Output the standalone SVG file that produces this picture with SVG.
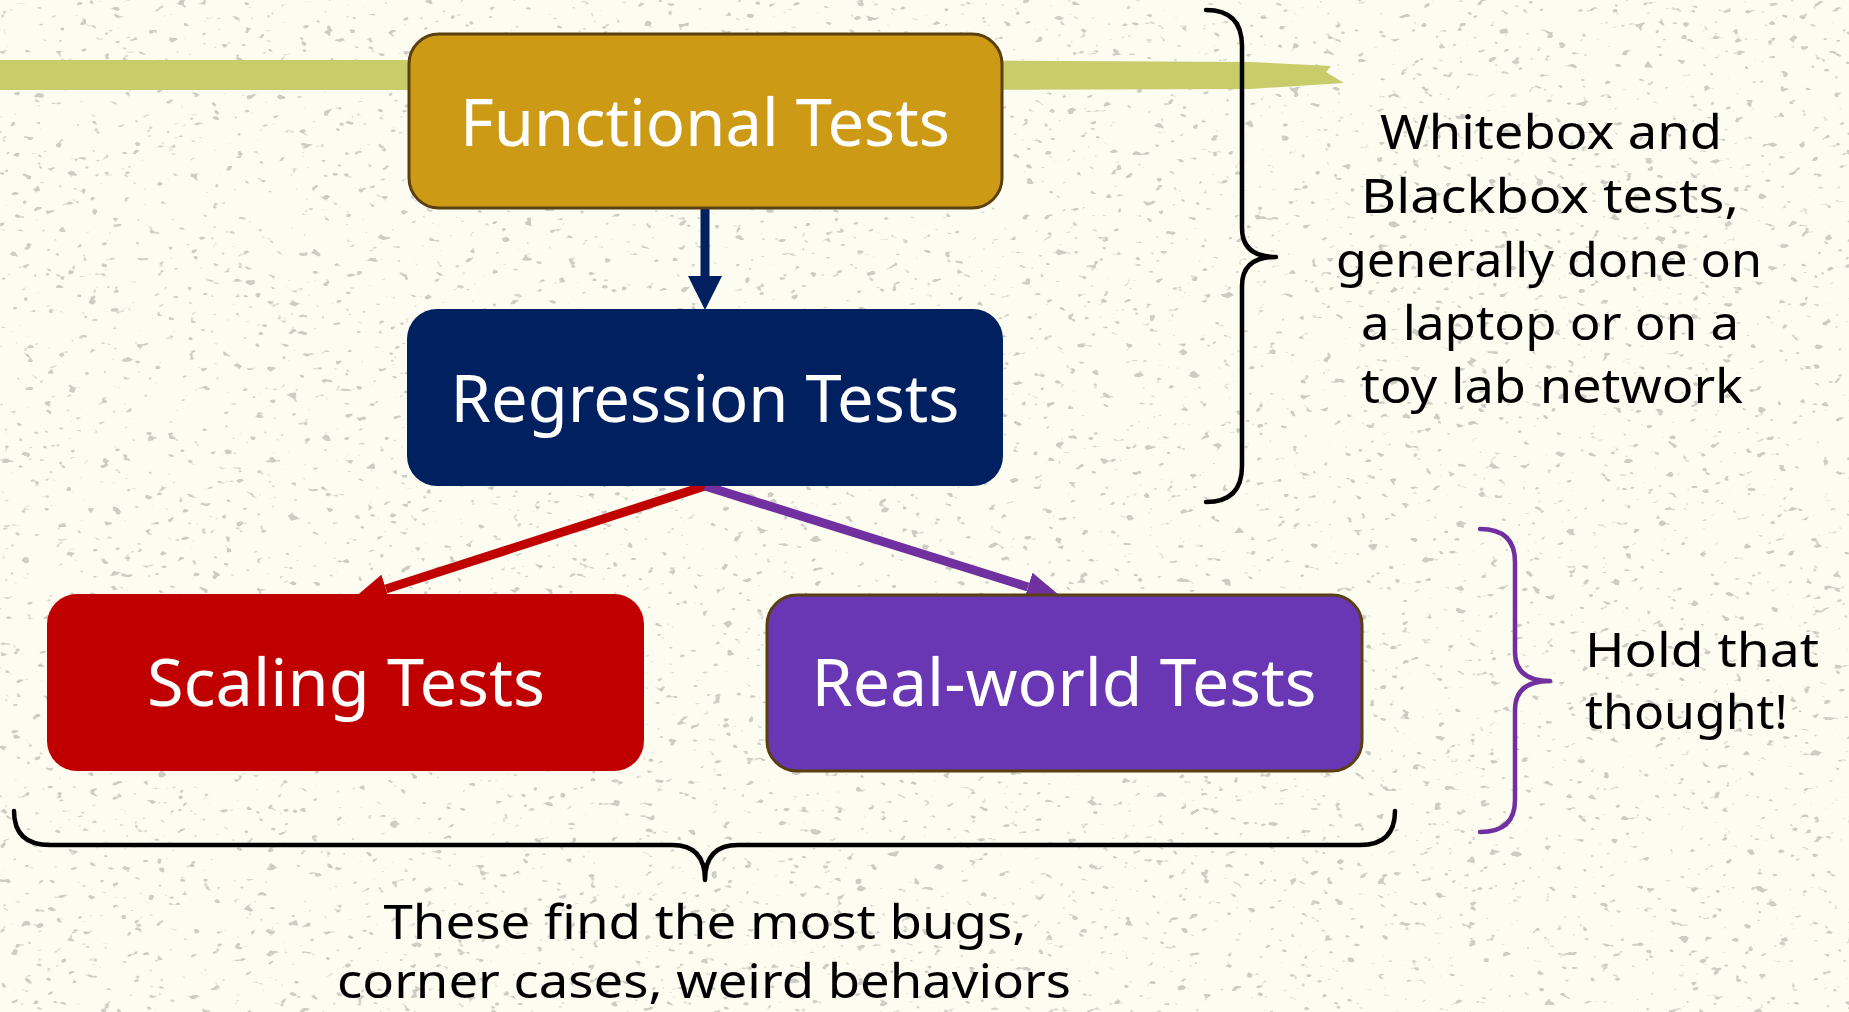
<svg xmlns="http://www.w3.org/2000/svg" width="1849" height="1012" viewBox="0 0 1849 1012">
<style>
.ntext{font-family:"Noto Sans","Liberation Sans",sans-serif;font-size:66px;fill:#ffffff;text-anchor:middle}
.note{font-family:"Noto Sans","Liberation Sans",sans-serif;font-size:48px;fill:#000000}
.brace{fill:none;stroke-width:4.5;stroke-linecap:round;stroke-linejoin:round}
.conn{fill:none;stroke-width:9;stroke-linecap:butt}
</style>
<defs>
<filter id="speck" x="0" y="0" width="100%" height="100%" filterUnits="userSpaceOnUse">
<feTurbulence type="fractalNoise" baseFrequency="0.09 0.14" numOctaves="2" seed="7" result="n"/>
<feColorMatrix in="n" type="matrix" values="0 0 0 0 0.42  0 0 0 0 0.42  0 0 0 0 0.4  14 0 0 0 -9.5"/>
<feComponentTransfer><feFuncA type="linear" slope="0.6"/></feComponentTransfer>
</filter>
<marker id="hNavy" markerUnits="userSpaceOnUse" viewBox="0 0 34 34" markerWidth="34" markerHeight="34" refX="0" refY="17" orient="auto"><path d="M0,0 L34,17 L0,34 z" fill="#002060"/></marker>
<marker id="hRed" markerUnits="userSpaceOnUse" viewBox="0 0 36 30" markerWidth="36" markerHeight="30" refX="0" refY="15" orient="auto"><path d="M0,0 L36,15 L0,30 z" fill="#c00000"/></marker>
<marker id="hPurple" markerUnits="userSpaceOnUse" viewBox="0 0 36 30" markerWidth="36" markerHeight="30" refX="0" refY="15" orient="auto"><path d="M0,0 L36,15 L0,30 z" fill="#7030a0"/></marker>
</defs>
<rect x="0" y="0" width="1849" height="1012" fill="#fcfcf1"/>
<rect x="0" y="0" width="1849" height="1012" fill="#fff" filter="url(#speck)"/>
<path id="band" d="M0,60 L900,60 L1250,62 L1331,66 L1326,72 L1344,83 L1250,89 L900,90 L0,90 z" fill="#c8cc6a"/>
<g id="connectors">
<line class="conn" x1="705" y1="209" x2="705" y2="276" stroke="#002060" stroke-width="11" marker-end="url(#hNavy)"/>
<line class="conn" x1="705" y1="486" x2="386" y2="589" stroke="#c00000" marker-end="url(#hRed)"/>
<line class="conn" x1="705" y1="486" x2="1028" y2="587" stroke="#7030a0" marker-end="url(#hPurple)"/>
</g>
<g id="functional">
<rect x="409" y="34" width="593" height="174" rx="30" fill="#cc9a14" stroke="#5a4010" stroke-width="3"/>
<text class="ntext" x="705" y="146" textLength="490" lengthAdjust="spacingAndGlyphs">Functional Tests</text>
</g>
<g id="regression">
<rect x="407" y="309" width="596" height="177" rx="30" fill="#002060"/>
<text class="ntext" x="705" y="422" textLength="509" lengthAdjust="spacingAndGlyphs">Regression Tests</text>
</g>
<g id="scaling">
<rect x="47" y="594" width="597" height="177" rx="30" fill="#c00000"/>
<text class="ntext" x="346" y="706" textLength="398" lengthAdjust="spacingAndGlyphs">Scaling Tests</text>
</g>
<g id="realworld">
<rect x="767" y="595" width="595" height="176" rx="30" fill="#6a37b4" stroke="#5a4010" stroke-width="3"/>
<text class="ntext" x="1064" y="706" textLength="505" lengthAdjust="spacingAndGlyphs">Real-world Tests</text>
</g>
<g id="whitebox-note">
<path class="brace" stroke="#000" d="M1206,10 Q1242,10 1242,46 L1242,228 Q1242,257 1276,257 Q1242,257 1242,286 L1242,466 Q1242,502 1206,502"/>
<text class="note" text-anchor="middle" x="1551" y="149" textLength="342" lengthAdjust="spacingAndGlyphs">Whitebox and</text>
<text class="note" text-anchor="middle" x="1550" y="213" textLength="378" lengthAdjust="spacingAndGlyphs">Blackbox tests,</text>
<text class="note" text-anchor="middle" x="1549" y="277" textLength="426" lengthAdjust="spacingAndGlyphs">generally done on</text>
<text class="note" text-anchor="middle" x="1550" y="340" textLength="378" lengthAdjust="spacingAndGlyphs">a laptop or on a</text>
<text class="note" text-anchor="middle" x="1552" y="403" textLength="382" lengthAdjust="spacingAndGlyphs">toy lab network</text>
</g>
<g id="hold-note">
<path class="brace" stroke="#7030a0" d="M1480,529 Q1515,529 1515,562 L1515,652 Q1515,681 1550,681 Q1515,681 1515,710 L1515,800 Q1515,832 1480,832"/>
<text class="note" x="1585" y="667" textLength="234" lengthAdjust="spacingAndGlyphs">Hold that</text>
<text class="note" x="1585" y="729" textLength="203" lengthAdjust="spacingAndGlyphs">thought!</text>
</g>
<g id="bugs-note">
<path class="brace" stroke="#000" d="M14,811 Q14,845 50,845 L672,845 Q705,845 705,880 Q705,845 738,845 L1360,845 Q1395,845 1395,811"/>
<text class="note" text-anchor="middle" x="705" y="939" font-size="52" textLength="643" lengthAdjust="spacingAndGlyphs">These find the most bugs,</text>
<text class="note" text-anchor="middle" x="704" y="998" font-size="50" textLength="734" lengthAdjust="spacingAndGlyphs">corner cases, weird behaviors</text>
</g>
</svg>
